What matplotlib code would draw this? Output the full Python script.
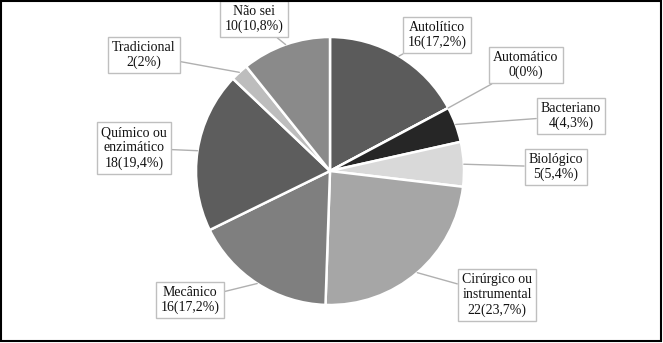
import matplotlib.pyplot as plt
import numpy as np
from matplotlib.patches import Rectangle

# Wound debridement methods (counts, n = 93)
labels = ["Autolítico", "Automático", "Bacteriano", "Biológico", "Cirúrgico ou\ninstrumental",
          "Mecânico", "Químico ou\nenzimático", "Tradicional", "Não sei"]
counts = [16, 0, 4, 5, 22, 16, 18, 2, 10]
pct_text = ["17,2%", "0%", "4,3%", "5,4%", "23,7%", "17,2%", "19,4%", "2%", "10,8%"]
colors = ["#5b5b5b", "#5b5b5b", "#262626", "#d9d9d9", "#a6a6a6",
          "#7f7f7f", "#5d5d5d", "#bdbdbd", "#8a8a8a"]

# label box centres, pixel coordinates (y measured from the bottom)
box_xy = [(437, 308), (526, 278), (571, 227), (556, 176), (497, 48),
          (190, 43), (134, 195), (144, 288), (254, 324)]

plt.rcParams['font.family'] = ['Liberation Serif', 'DejaVu Serif']

fig = plt.figure(figsize=(6.63, 3.43), dpi=100)
ax = fig.add_axes([0, 0, 1, 1])

center = (330, 172)
radius = 134
wedges, _ = ax.pie(counts, colors=colors, startangle=90, counterclock=False,
                   center=center, radius=radius,
                   wedgeprops=dict(edgecolor='white', linewidth=1.8))
ax.set_xlim(0, 663)
ax.set_ylim(0, 343)
ax.set_aspect('equal')
ax.axis('off')

for w, lab, c, p, (bx, by) in zip(wedges, labels, counts, pct_text, box_xy):
    ang = np.deg2rad((w.theta1 + w.theta2) / 2)
    px = center[0] + radius * np.cos(ang)
    py = center[1] + radius * np.sin(ang)
    ax.annotate(f"{lab}\n{c}({p})", xy=(px, py), xytext=(bx, by),
                ha='center', va='center', multialignment='center',
                fontsize=10, color='#111111', linespacing=1.2,
                bbox=dict(boxstyle='square,pad=0.3', fc='white', ec='#bfbfbf', lw=1),
                arrowprops=dict(arrowstyle='-', color='#b0b0b0', lw=1,
                                shrinkA=0, shrinkB=0))

fig.patches.append(Rectangle((0.002, 0.006), 0.995, 0.99, transform=fig.transFigure,
                             fill=False, edgecolor='black', linewidth=1.5))

fig.savefig("out.png", dpi=100)
